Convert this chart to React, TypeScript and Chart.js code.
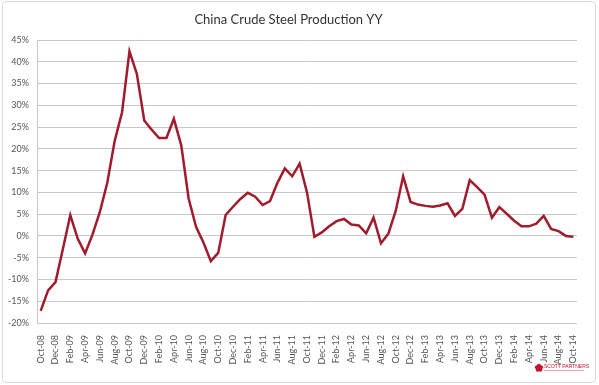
import React, { useEffect, useRef } from "react";
import { Chart, registerables } from "chart.js";

Chart.register(...registerables);

const TITLE = "China Crude Steel Production YY";

const months: string[] = [
  "Oct-08", "Nov-08", "Dec-08", "Jan-09", "Feb-09", "Mar-09", "Apr-09", "May-09", "Jun-09", "Jul-09", "Aug-09", "Sep-09",
  "Oct-09", "Nov-09", "Dec-09", "Jan-10", "Feb-10", "Mar-10", "Apr-10", "May-10", "Jun-10", "Jul-10", "Aug-10", "Sep-10",
  "Oct-10", "Nov-10", "Dec-10", "Jan-11", "Feb-11", "Mar-11", "Apr-11", "May-11", "Jun-11", "Jul-11", "Aug-11", "Sep-11",
  "Oct-11", "Nov-11", "Dec-11", "Jan-12", "Feb-12", "Mar-12", "Apr-12", "May-12", "Jun-12", "Jul-12", "Aug-12", "Sep-12",
  "Oct-12", "Nov-12", "Dec-12", "Jan-13", "Feb-13", "Mar-13", "Apr-13", "May-13", "Jun-13", "Jul-13", "Aug-13", "Sep-13",
  "Oct-13", "Nov-13", "Dec-13", "Jan-14", "Feb-14", "Mar-14", "Apr-14", "May-14", "Jun-14", "Jul-14", "Aug-14", "Sep-14",
  "Oct-14",
];

const productionYY: number[] = [
  -17.2, -12.5, -10.6, -3.0, 4.8, -0.6, -4.0, 0.3, 5.5, 12.2, 21.8, 28.4,
  42.4, 37.2, 26.5, 24.4, 22.5, 22.5, 26.9, 20.8, 8.6, 2.1, -1.5, -5.8,
  -3.9, 4.8, 6.7, 8.5, 9.9, 9.0, 7.1, 8.0, 12.2, 15.5, 13.7, 16.6,
  10.0, -0.2, 0.8, 2.2, 3.4, 3.9, 2.6, 2.4, 0.6, 4.2, -1.7, 0.5,
  5.8, 13.7, 7.8, 7.2, 6.9, 6.7, 7.0, 7.5, 4.6, 6.2, 12.8, 11.2,
  9.5, 4.2, 6.6, 5.1, 3.5, 2.2, 2.2, 2.8, 4.6, 1.6, 1.1, 0.0,
  -0.2,
];

const Y_MIN = -20;
const Y_MAX = 45;
const Y_STEP = 5;

const LOGO_TEXT = "SCOTT PARTNERS";

const framePlugin = {
  id: "frame",
  beforeDraw(chart: any) {
    const ctx = chart.ctx;
    ctx.save();
    ctx.fillStyle = "#ffffff";
    ctx.fillRect(0, 0, chart.width, chart.height);
    ctx.restore();
  },
  afterDraw(chart: any) {
    const ctx = chart.ctx;
    ctx.save();
    ctx.strokeStyle = "#d9d9d9";
    ctx.lineWidth = 1;
    const x = 2.5, y = 1.5, w = 593, h = 381, r = 4;
    ctx.beginPath();
    ctx.moveTo(x + r, y);
    ctx.lineTo(x + w - r, y);
    ctx.arcTo(x + w, y, x + w, y + r, r);
    ctx.lineTo(x + w, y + h - r);
    ctx.arcTo(x + w, y + h, x + w - r, y + h, r);
    ctx.lineTo(x + r, y + h);
    ctx.arcTo(x, y + h, x, y + h - r, r);
    ctx.lineTo(x, y + r);
    ctx.arcTo(x, y, x + r, y, r);
    ctx.closePath();
    ctx.stroke();

    // logo
    ctx.fillStyle = "#c8102e";
    const cx = 539, cy = 368;
    for (let i = 0; i < 5; i++) {
      const a = (i / 5) * Math.PI * 2 - Math.PI / 2;
      ctx.beginPath();
      ctx.arc(cx + Math.cos(a) * 2.2, cy + Math.sin(a) * 2.2, 2, 0, Math.PI * 2);
      ctx.fill();
    }
    ctx.font = "5px 'Liberation Sans'";
    ctx.textBaseline = "middle";
    ctx.textAlign = "left";
    ctx.fillText(LOGO_TEXT, 544, 366.5);
    ctx.fillStyle = "#d98a96";
    ctx.fillRect(544, 370, 40, 0.8);
    ctx.restore();
  },
};

export default function App() {
  const ref = useRef<HTMLCanvasElement | null>(null);

  useEffect(() => {
    if (!ref.current) return;
    const chart = new Chart(ref.current, {
      type: "line",
      data: {
        labels: months,
        datasets: [
          {
            label: TITLE,
            data: productionYY,
            borderColor: "#a01c2c",
            backgroundColor: "#a01c2c",
            borderWidth: 2.5,
            pointRadius: 0,
            tension: 0,
            fill: false,
          },
        ],
      },
      options: {
        responsive: false,
        animation: false,
        devicePixelRatio: 1,
        layout: { padding: { left: 0, right: 22, top: 0, bottom: 0 } },
        plugins: {
          legend: { display: false },
          tooltip: { enabled: false },
          title: {
            display: true,
            text: TITLE,
            color: "#333333",
            font: { family: "Lato", size: 13, weight: "normal", lineHeight: 1.2 },
            padding: { top: 12, bottom: 12.4 },
          },
        },
        scales: {
          x: {
            type: "category",
            offset: true,
            grid: { display: false },
            border: { display: false },
            ticks: {
              autoSkip: false,
              maxRotation: 90,
              minRotation: 90,
              padding: 4,
              color: "#555555",
              font: { family: "Lato", size: 9 },
              callback: (_v: any, i: number) => (i % 2 === 0 ? months[i] : ""),
            },
            afterFit: (scale: any) => {
              scale.height = 62;
            },
          },
          y: {
            min: Y_MIN,
            max: Y_MAX,
            grid: { color: "#c8c8c8", lineWidth: 1, drawTicks: false },
            border: { display: true, color: "#c8c8c8" },
            ticks: {
              stepSize: Y_STEP,
              padding: 8,
              color: "#555555",
              font: { family: "Lato", size: 9 },
              callback: (v: any) => `${v}%`,
            },
            afterFit: (scale: any) => {
              scale.width = 37;
            },
          },
        },
      },
      plugins: [framePlugin],
    });
    return () => chart.destroy();
  }, []);

  return (
    <div style={{ position: "fixed", left: 0, top: 0, width: 599, height: 385, background: "#fff" }}>
      <canvas ref={ref} width={599} height={385} style={{ width: 599, height: 385, display: "block" }} />
    </div>
  );
}
